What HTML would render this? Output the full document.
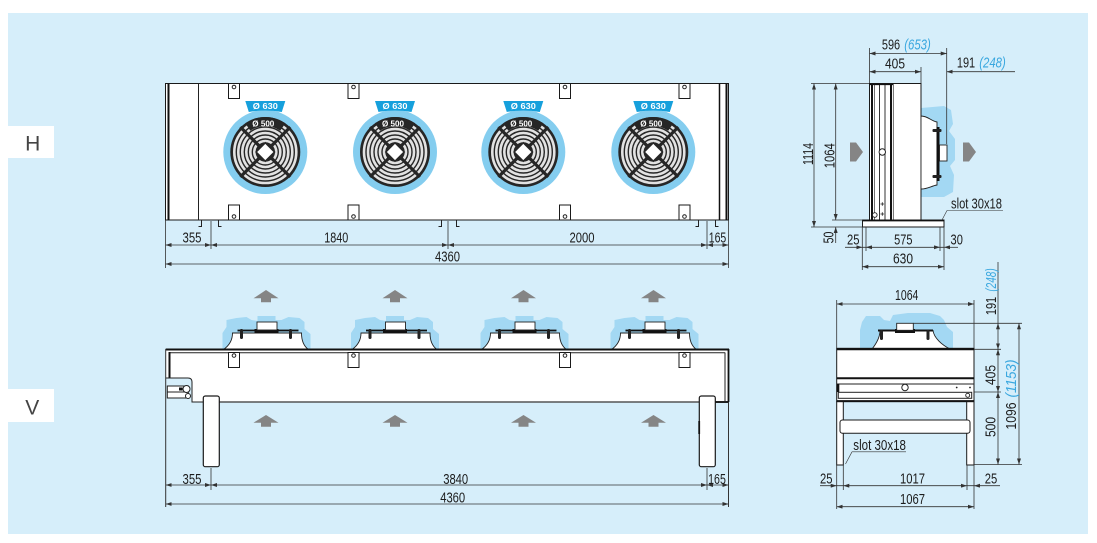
<!DOCTYPE html>
<html><head><meta charset="utf-8"><style>
html,body{margin:0;padding:0;background:#fff;}
svg{display:block;}
text{font-family:"Liberation Sans",sans-serif;font-size:14.5px;fill:#1c1c1c;}
.m{text-anchor:middle;}
.b{fill:#39a7df;font-style:italic;}
.tg{font-size:8.5px;font-weight:bold;fill:#fff;text-anchor:middle;}
.ln{stroke:#333;stroke-width:0.8;fill:none;}
.dm{stroke:#333;stroke-width:0.8;fill:none;marker-start:url(#ar);marker-end:url(#ar);}
.de{stroke:#333;stroke-width:0.8;fill:none;marker-end:url(#ar);}
.ds{stroke:#333;stroke-width:0.8;fill:none;marker-start:url(#ar);}
.ob{fill:#fff;stroke:#1a1a1a;stroke-width:1;}
.cl{fill:#a3d8f3;}
.ga{fill:#858585;}
</style></head><body>
<svg width="1097" height="543" viewBox="0 0 1097 543" xmlns="http://www.w3.org/2000/svg">
<defs>
<marker id="ar" viewBox="0 0 6 4" refX="6" refY="2" markerWidth="6" markerHeight="4" markerUnits="userSpaceOnUse" orient="auto-start-reverse"><path d="M0,0 L6,2 L0,4 z" fill="#333"/></marker>
</defs>
<rect x="8" y="13" width="1080" height="521" fill="#d6eefa"/>

<!-- labels -->
<rect x="8" y="126" width="46" height="32" fill="#fff"/>
<text x="32.7" y="150.5" class="m" style="font-size:21px;fill:#444">H</text>
<rect x="8" y="389" width="46" height="33" fill="#fff"/>
<text x="32.3" y="414.5" class="m" style="font-size:21px;fill:#444">V</text>

<!-- ================= H MAIN VIEW ================= -->
<rect x="165.5" y="83.5" width="563" height="136.5" class="ob"/>
<line x1="168.5" y1="84" x2="168.5" y2="220" stroke="#111" stroke-width="2"/>
<line x1="198.5" y1="83.5" x2="198.5" y2="220" stroke="#222" stroke-width="1"/>
<line x1="719.5" y1="83.5" x2="719.5" y2="220" stroke="#111" stroke-width="1.5"/>
<line x1="726.5" y1="83.5" x2="726.5" y2="220" stroke="#111" stroke-width="2"/>

<g>
<rect x="228.5" y="83.5" width="11" height="15" class="ob"/><circle cx="234" cy="87" r="1.8" fill="none" stroke="#222"/>
<rect x="348" y="83.5" width="11" height="15" class="ob"/><circle cx="353.5" cy="87" r="1.8" fill="none" stroke="#222"/>
<rect x="559.5" y="83.5" width="11" height="15" class="ob"/><circle cx="565" cy="87" r="1.8" fill="none" stroke="#222"/>
<rect x="679" y="83.5" width="11" height="15" class="ob"/><circle cx="684.5" cy="87" r="1.8" fill="none" stroke="#222"/>
<rect x="228.5" y="205" width="11" height="15" class="ob"/><circle cx="234" cy="216.5" r="1.8" fill="none" stroke="#222"/>
<rect x="348" y="205" width="11" height="15" class="ob"/><circle cx="353.5" cy="216.5" r="1.8" fill="none" stroke="#222"/>
<rect x="559.5" y="205" width="11" height="15" class="ob"/><circle cx="565" cy="216.5" r="1.8" fill="none" stroke="#222"/>
<rect x="679" y="205" width="11" height="15" class="ob"/><circle cx="684.5" cy="216.5" r="1.8" fill="none" stroke="#222"/>
</g>

<!-- fans -->
<g transform="translate(265.3,152)">
<circle r="42" fill="#84cdef"/>
<path d="M-20,-51 L20,-51 L16.5,-40 Q0,-43 -16.5,-40 Z" fill="#16a0dc"/>
<circle r="35" fill="#262626"/>
<g fill="none" stroke="#e2e2e2" stroke-width="2.6"><circle r="31"/><circle r="27"/><circle r="23"/><circle r="19"/><circle r="15"/><circle r="11"/></g>
<path d="M-25,-25 L25,25 M25,-25 L-25,25" stroke="#262626" stroke-width="3.2"/>
<path d="M-20.1,-28.7 A35,35 0 0 1 20.1,-28.7 L14.9,-21.3 A26,26 0 0 0 -14.9,-21.3 Z" fill="#262626"/>
<rect x="-6.5" y="-6.5" width="13" height="13" transform="rotate(45)" fill="#fff" stroke="#262626" stroke-width="1.5"/>
<text x="0" y="-43" class="tg" textLength="25" lengthAdjust="spacingAndGlyphs">Ø 630</text>
<text x="-2" y="-25.5" class="tg" textLength="22" lengthAdjust="spacingAndGlyphs">Ø 500</text>
</g>
<g transform="translate(395,152)">
<circle r="42" fill="#84cdef"/>
<path d="M-20,-51 L20,-51 L16.5,-40 Q0,-43 -16.5,-40 Z" fill="#16a0dc"/>
<circle r="35" fill="#262626"/>
<g fill="none" stroke="#e2e2e2" stroke-width="2.6"><circle r="31"/><circle r="27"/><circle r="23"/><circle r="19"/><circle r="15"/><circle r="11"/></g>
<path d="M-25,-25 L25,25 M25,-25 L-25,25" stroke="#262626" stroke-width="3.2"/>
<path d="M-20.1,-28.7 A35,35 0 0 1 20.1,-28.7 L14.9,-21.3 A26,26 0 0 0 -14.9,-21.3 Z" fill="#262626"/>
<rect x="-6.5" y="-6.5" width="13" height="13" transform="rotate(45)" fill="#fff" stroke="#262626" stroke-width="1.5"/>
<text x="0" y="-43" class="tg" textLength="25" lengthAdjust="spacingAndGlyphs">Ø 630</text>
<text x="-2" y="-25.5" class="tg" textLength="22" lengthAdjust="spacingAndGlyphs">Ø 500</text>
</g>
<g transform="translate(523.3,152)">
<circle r="42" fill="#84cdef"/>
<path d="M-20,-51 L20,-51 L16.5,-40 Q0,-43 -16.5,-40 Z" fill="#16a0dc"/>
<circle r="35" fill="#262626"/>
<g fill="none" stroke="#e2e2e2" stroke-width="2.6"><circle r="31"/><circle r="27"/><circle r="23"/><circle r="19"/><circle r="15"/><circle r="11"/></g>
<path d="M-25,-25 L25,25 M25,-25 L-25,25" stroke="#262626" stroke-width="3.2"/>
<path d="M-20.1,-28.7 A35,35 0 0 1 20.1,-28.7 L14.9,-21.3 A26,26 0 0 0 -14.9,-21.3 Z" fill="#262626"/>
<rect x="-6.5" y="-6.5" width="13" height="13" transform="rotate(45)" fill="#fff" stroke="#262626" stroke-width="1.5"/>
<text x="0" y="-43" class="tg" textLength="25" lengthAdjust="spacingAndGlyphs">Ø 630</text>
<text x="-2" y="-25.5" class="tg" textLength="22" lengthAdjust="spacingAndGlyphs">Ø 500</text>
</g>
<g transform="translate(653.3,152)">
<circle r="42" fill="#84cdef"/>
<path d="M-20,-51 L20,-51 L16.5,-40 Q0,-43 -16.5,-40 Z" fill="#16a0dc"/>
<circle r="35" fill="#262626"/>
<g fill="none" stroke="#e2e2e2" stroke-width="2.6"><circle r="31"/><circle r="27"/><circle r="23"/><circle r="19"/><circle r="15"/><circle r="11"/></g>
<path d="M-25,-25 L25,25 M25,-25 L-25,25" stroke="#262626" stroke-width="3.2"/>
<path d="M-20.1,-28.7 A35,35 0 0 1 20.1,-28.7 L14.9,-21.3 A26,26 0 0 0 -14.9,-21.3 Z" fill="#262626"/>
<rect x="-6.5" y="-6.5" width="13" height="13" transform="rotate(45)" fill="#fff" stroke="#262626" stroke-width="1.5"/>
<text x="0" y="-43" class="tg" textLength="25" lengthAdjust="spacingAndGlyphs">Ø 630</text>
<text x="-2" y="-25.5" class="tg" textLength="22" lengthAdjust="spacingAndGlyphs">Ø 500</text>
</g>

<path d="M201.5,220 V226.5 H198.5 M218.5,220 V226.5 H221.5 M441.5,220 V226.5 H438.5 M456.5,220 V226.5 H459.5 M698.5,220 V226.5 H695.5 M715.5,220 V226.5 H718.5" stroke="#222" stroke-width="1" fill="none"/>
<path d="M165.5,220 V268 M728.5,220 V268 M211,221 V249 M448,221 V249 M707,221 V249" class="ln"/>
<line x1="165.5" y1="245" x2="211" y2="245" class="dm"/>
<line x1="211" y1="245" x2="448" y2="245" class="dm"/>
<line x1="448" y1="245" x2="707" y2="245" class="dm"/>
<line x1="707" y1="245" x2="728.5" y2="245" class="dm"/>
<line x1="165.5" y1="264" x2="728.5" y2="264" class="dm"/>
<text x="192" y="242.7" class="m" textLength="19" lengthAdjust="spacingAndGlyphs">355</text>
<text x="336.3" y="242.7" class="m" textLength="24" lengthAdjust="spacingAndGlyphs">1840</text>
<text x="582" y="242.7" class="m" textLength="25" lengthAdjust="spacingAndGlyphs">2000</text>
<text x="717.5" y="242.7" class="m" textLength="17.5" lengthAdjust="spacingAndGlyphs">165</text>
<text x="447.5" y="261.7" class="m" textLength="25" lengthAdjust="spacingAndGlyphs">4360</text>

<!-- ================= H SIDE VIEW ================= -->
<path class="cl" d="M921,108 L944,106 L951,110 L953,124 L949,131 L955,139 L955,160 L950,166 L954,175 L953,192 L944,197 L921,197 Z"/>
<rect x="869.5" y="83.5" width="51.5" height="136.5" class="ob"/>
<line x1="872" y1="84" x2="872" y2="220" stroke="#111" stroke-width="2"/>
<line x1="874.5" y1="84" x2="874.5" y2="220" stroke="#333" stroke-width="0.7"/>
<line x1="879.5" y1="84" x2="879.5" y2="220" stroke="#333" stroke-width="1"/>
<line x1="885" y1="84" x2="885" y2="220" stroke="#333" stroke-width="1"/>
<line x1="891" y1="84" x2="891" y2="220" stroke="#111" stroke-width="2"/>
<line x1="893.3" y1="84" x2="893.3" y2="220" stroke="#333" stroke-width="0.7"/>
<line x1="869.5" y1="84.3" x2="893" y2="84.3" stroke="#111" stroke-width="1.6"/>
<circle cx="882.3" cy="152" r="3.2" fill="#fff" stroke="#222" stroke-width="1"/>
<path d="M880.5,204 h3.6 M882.3,202.2 v3.6 M880.5,214 h3.6 M882.3,212.2 v3.6" stroke="#222" stroke-width="0.8"/>
<circle cx="874.8" cy="215" r="2.3" fill="#fff" stroke="#222" stroke-width="0.9"/>
<path d="M921,116 C928,116 931,121 937,122 L937,185 C931,186 928,189 921,189 Z" fill="#fff" stroke="#222" stroke-width="0.9"/>
<rect x="936.5" y="127" width="3" height="54" fill="#111"/>
<rect x="932.5" y="129" width="9" height="3" rx="1" fill="#222"/>
<rect x="932.5" y="175" width="9" height="3" rx="1" fill="#222"/>
<rect x="939.5" y="145" width="7.5" height="16" fill="#fff" stroke="#222" stroke-width="0.9"/>
<rect x="862.5" y="220" width="81.5" height="7" class="ob"/>
<line x1="862.5" y1="220.6" x2="944" y2="220.6" stroke="#111" stroke-width="1.6"/>
<polygon class="ga" points="850,142.5 856,142.5 863,152 856,161.5 850,161.5"/>
<polygon class="ga" points="963,142.5 969,142.5 976,152 969,161.5 963,161.5"/>

<path d="M869.5,48 V83 M946.7,48 V144 M921,67 V83" class="ln"/>
<line x1="869.5" y1="53.5" x2="946.7" y2="53.5" class="dm"/>
<line x1="869.5" y1="71.7" x2="921" y2="71.7" class="dm"/>
<line x1="946.7" y1="71.7" x2="1015" y2="71.7" class="ds"/>
<text x="891" y="49.3" class="m" textLength="18.3" lengthAdjust="spacingAndGlyphs">596</text>
<text x="917.5" y="49.3" class="m b" textLength="26.5" lengthAdjust="spacingAndGlyphs">(653)</text>
<text x="895" y="68.3" class="m" textLength="20" lengthAdjust="spacingAndGlyphs">405</text>
<text x="966" y="67.3" class="m" textLength="18.3" lengthAdjust="spacingAndGlyphs">191</text>
<text x="992.5" y="67.3" class="m b" textLength="26.5" lengthAdjust="spacingAndGlyphs">(248)</text>

<path d="M811,83.5 H869 M832,220 H862.5 M811,227 H862.5" class="ln"/>
<line x1="814" y1="83.5" x2="814" y2="227" class="dm"/>
<line x1="835.7" y1="83.5" x2="835.7" y2="220" class="dm"/>
<line x1="835.7" y1="227" x2="835.7" y2="243" class="ds"/>
<text transform="translate(813,154) rotate(-90)" class="m" textLength="22" lengthAdjust="spacingAndGlyphs">1114</text>
<text transform="translate(834.3,155.8) rotate(-90)" class="m" textLength="25" lengthAdjust="spacingAndGlyphs">1064</text>
<text transform="translate(833.3,237.5) rotate(-90)" class="m" textLength="11.7" lengthAdjust="spacingAndGlyphs">50</text>

<path d="M862.3,227 V270 M866,227 V251 M940,227 V251 M944,227 V270 M862.3,247.3 H866 M940,247.3 H944" class="ln"/>
<line x1="845" y1="247.3" x2="862.3" y2="247.3" class="de"/>
<line x1="866" y1="247.3" x2="940" y2="247.3" class="dm"/>
<line x1="944" y1="247.3" x2="958" y2="247.3" class="ds"/>
<line x1="862.3" y1="266.7" x2="944" y2="266.7" class="dm"/>
<text x="853.3" y="244.3" class="m" textLength="12.5" lengthAdjust="spacingAndGlyphs">25</text>
<text x="903.3" y="244.3" class="m" textLength="18.3" lengthAdjust="spacingAndGlyphs">575</text>
<text x="956.7" y="244.3" class="m" textLength="12.3" lengthAdjust="spacingAndGlyphs">30</text>
<text x="903" y="263.3" class="m" textLength="20" lengthAdjust="spacingAndGlyphs">630</text>
<text x="951" y="208.3" textLength="51" lengthAdjust="spacingAndGlyphs">slot 30x18</text>
<path d="M947,210.5 H1003 M947,210.5 L942,220" stroke="#333" stroke-width="0.6" fill="none"/>

<!-- ================= V MAIN VIEW ================= -->
<g class="ga">
<polygon points="253.5,298.3 266,290 278.5,298.3 271,298.3 271,302.3 261,302.3 261,298.3"/>
<polygon points="382.5,298.3 395,290 407.5,298.3 400,298.3 400,302.3 390,302.3 390,298.3"/>
<polygon points="511,298.3 523.5,290 536,298.3 528.5,298.3 528.5,302.3 518.5,302.3 518.5,298.3"/>
<polygon points="641,298.3 653.5,290 666,298.3 658.5,298.3 658.5,302.3 648.5,302.3 648.5,298.3"/>
<polygon points="253.5,422.7 266,415 278.5,422.7 271,422.7 271,426.7 261,426.7 261,422.7"/>
<polygon points="382.5,422.7 395,415 407.5,422.7 400,422.7 400,426.7 390,426.7 390,422.7"/>
<polygon points="511,422.7 523.5,415 536,422.7 528.5,422.7 528.5,426.7 518.5,426.7 518.5,422.7"/>
<polygon points="641,422.7 653.5,415 666,422.7 658.5,422.7 658.5,426.7 648.5,426.7 648.5,422.7"/>
</g>
<g transform="translate(266.5,0)">
<path class="cl" d="M-44,349 L-44,333 L-40,327 L-40,320 L-30,318 L-20,317 L-15,320 L-9,321 L-9,316 L9,316 L9,320 L15,320 L22,317 L33,318 L38,322 L38,329 L44,334 L44,349 Z"/>
<path d="M-34,333 L35,333 C35,341 37,346 42,349.5 L-43,349.5 C-38,346 -34,341 -34,333 Z" fill="#fff" stroke="#222" stroke-width="0.9"/>
<rect x="-29" y="329.6" width="61" height="1.8" fill="#111"/>
<rect x="-26.5" y="329" width="3" height="10" rx="1.2" fill="#222"/>
<rect x="22.5" y="329" width="3" height="10" rx="1.2" fill="#222"/>
<rect x="-12" y="329" width="24" height="4" fill="#111"/>
<rect x="-9.5" y="322" width="20" height="8" fill="#fff" stroke="#222" stroke-width="0.9"/>
</g>
<g transform="translate(395,0)">
<path class="cl" d="M-44,349 L-44,333 L-40,327 L-40,320 L-30,318 L-20,317 L-15,320 L-9,321 L-9,316 L9,316 L9,320 L15,320 L22,317 L33,318 L38,322 L38,329 L44,334 L44,349 Z"/>
<path d="M-34,333 L35,333 C35,341 37,346 42,349.5 L-43,349.5 C-38,346 -34,341 -34,333 Z" fill="#fff" stroke="#222" stroke-width="0.9"/>
<rect x="-29" y="329.6" width="61" height="1.8" fill="#111"/>
<rect x="-26.5" y="329" width="3" height="10" rx="1.2" fill="#222"/>
<rect x="22.5" y="329" width="3" height="10" rx="1.2" fill="#222"/>
<rect x="-12" y="329" width="24" height="4" fill="#111"/>
<rect x="-9.5" y="322" width="20" height="8" fill="#fff" stroke="#222" stroke-width="0.9"/>
</g>
<g transform="translate(524.5,0)">
<path class="cl" d="M-44,349 L-44,333 L-40,327 L-40,320 L-30,318 L-20,317 L-15,320 L-9,321 L-9,316 L9,316 L9,320 L15,320 L22,317 L33,318 L38,322 L38,329 L44,334 L44,349 Z"/>
<path d="M-34,333 L35,333 C35,341 37,346 42,349.5 L-43,349.5 C-38,346 -34,341 -34,333 Z" fill="#fff" stroke="#222" stroke-width="0.9"/>
<rect x="-29" y="329.6" width="61" height="1.8" fill="#111"/>
<rect x="-26.5" y="329" width="3" height="10" rx="1.2" fill="#222"/>
<rect x="22.5" y="329" width="3" height="10" rx="1.2" fill="#222"/>
<rect x="-12" y="329" width="24" height="4" fill="#111"/>
<rect x="-9.5" y="322" width="20" height="8" fill="#fff" stroke="#222" stroke-width="0.9"/>
</g>
<g transform="translate(654.5,0)">
<path class="cl" d="M-44,349 L-44,333 L-40,327 L-40,320 L-30,318 L-20,317 L-15,320 L-9,321 L-9,316 L9,316 L9,320 L15,320 L22,317 L33,318 L38,322 L38,329 L44,334 L44,349 Z"/>
<path d="M-34,333 L35,333 C35,341 37,346 42,349.5 L-43,349.5 C-38,346 -34,341 -34,333 Z" fill="#fff" stroke="#222" stroke-width="0.9"/>
<rect x="-29" y="329.6" width="61" height="1.8" fill="#111"/>
<rect x="-26.5" y="329" width="3" height="10" rx="1.2" fill="#222"/>
<rect x="22.5" y="329" width="3" height="10" rx="1.2" fill="#222"/>
<rect x="-12" y="329" width="24" height="4" fill="#111"/>
<rect x="-9.5" y="322" width="20" height="8" fill="#fff" stroke="#222" stroke-width="0.9"/>
</g>

<path d="M165.7,349 H729 V402 H192 V382 Q192,378 188,378 H165.7 Z" fill="#fff"/>
<line x1="165.7" y1="349.5" x2="729" y2="349.5" stroke="#111" stroke-width="2"/>
<line x1="169" y1="352.8" x2="725" y2="352.8" stroke="#222" stroke-width="1"/>
<line x1="169.5" y1="352" x2="169.5" y2="378" stroke="#111" stroke-width="2"/>
<path d="M165.7,378 H188 Q192,378 192,382 V402 H203" stroke="#222" stroke-width="1" fill="none"/>
<line x1="219" y1="402" x2="729" y2="402" stroke="#555" stroke-width="1.5"/>
<line x1="715" y1="402" x2="729" y2="402" stroke="#111" stroke-width="1.8"/>
<line x1="725" y1="352.5" x2="725" y2="402" stroke="#222" stroke-width="1"/>
<line x1="728.5" y1="349" x2="728.5" y2="402" stroke="#111" stroke-width="1.8"/>
<path d="M165.7,349 V507 M728.5,402 V507" class="ln" style="stroke-width:1"/>
<rect x="167.3" y="386" width="21" height="12" fill="#fff" stroke="#222" stroke-width="1"/>
<line x1="167.3" y1="392" x2="188" y2="392" stroke="#222" stroke-width="1"/>
<rect x="179" y="387.5" width="3.5" height="3" fill="#111"/>
<circle cx="186.5" cy="389" r="3.5" fill="#fff" stroke="#222" stroke-width="1"/>
<circle cx="188" cy="396" r="2.5" fill="#fff" stroke="#222" stroke-width="1"/>
<rect x="228.5" y="352.5" width="11" height="15" class="ob"/><circle cx="234" cy="355.5" r="1.8" fill="none" stroke="#222"/>
<rect x="348" y="352.5" width="11" height="15" class="ob"/><circle cx="353.5" cy="355.5" r="1.8" fill="none" stroke="#222"/>
<rect x="559.5" y="352.5" width="11" height="15" class="ob"/><circle cx="565" cy="355.5" r="1.8" fill="none" stroke="#222"/>
<rect x="679" y="352.5" width="11" height="15" class="ob"/><circle cx="684.5" cy="355.5" r="1.8" fill="none" stroke="#222"/>
<rect x="203.3" y="396" width="16" height="70.7" rx="2" fill="#fff" stroke="#1a1a1a" stroke-width="1.2"/>
<rect x="699.3" y="396" width="16" height="70.7" rx="2" fill="#fff" stroke="#1a1a1a" stroke-width="1.2"/>
<rect x="698.3" y="421" width="1.8" height="13" fill="#111"/>
<path d="M211,468 V490 M707,468 V490" class="ln"/>
<line x1="165.7" y1="485" x2="211" y2="485" class="dm"/>
<line x1="211" y1="485" x2="707" y2="485" class="dm"/>
<line x1="707" y1="485" x2="728.5" y2="485" class="dm"/>
<line x1="165.7" y1="504" x2="728.5" y2="504" class="dm"/>
<text x="192" y="484" class="m" textLength="19" lengthAdjust="spacingAndGlyphs">355</text>
<text x="455.7" y="484" class="m" textLength="25" lengthAdjust="spacingAndGlyphs">3840</text>
<text x="717" y="484" class="m" textLength="17.7" lengthAdjust="spacingAndGlyphs">165</text>
<text x="452.7" y="502.7" class="m" textLength="25" lengthAdjust="spacingAndGlyphs">4360</text>

<!-- ================= V SIDE VIEW ================= -->
<path class="cl" d="M860,349 L860,330 L862,322 L866,316 L880,316 L884,320 L890,321 L893,315 L908,313 L930,313 L940,316 L944,320 L947,327 L953,332 L953,349 Z"/>
<path d="M880,330.5 L933,330.5 C934,338 942,345 950,349 L872,349 C876,344 880,338 880,330.5 Z" fill="#fff" stroke="#222" stroke-width="0.9"/>
<rect x="878" y="329.5" width="55" height="2" fill="#111"/>
<rect x="880" y="330" width="3" height="10" rx="1.2" fill="#222"/>
<rect x="926.5" y="330" width="3" height="10" rx="1.2" fill="#222"/>
<rect x="895" y="329" width="20" height="4" fill="#111"/>
<rect x="896.7" y="323.3" width="16.6" height="7" fill="#fff" stroke="#222" stroke-width="0.9"/>

<rect x="836.7" y="348.3" width="137.3" height="53.4" class="ob"/>
<line x1="836.7" y1="349.2" x2="974" y2="349.2" stroke="#111" stroke-width="2"/>
<line x1="836.7" y1="378.3" x2="974" y2="378.3" stroke="#111" stroke-width="2"/>
<line x1="836.7" y1="384" x2="974" y2="384" stroke="#222" stroke-width="1"/>
<rect x="838.3" y="392.3" width="133.4" height="6" fill="#fff" stroke="#222" stroke-width="1"/>
<line x1="836.7" y1="401" x2="974" y2="401" stroke="#111" stroke-width="1.8"/>
<circle cx="905" cy="387.5" r="3.2" fill="#fff" stroke="#222" stroke-width="1"/>
<circle cx="956.7" cy="387.5" r="0.9" fill="#222"/>
<circle cx="970" cy="387.5" r="0.9" fill="#222"/>
<circle cx="967.7" cy="395.3" r="2" fill="#fff" stroke="#222" stroke-width="0.9"/>
<rect x="836.7" y="384" width="2.6" height="8" fill="#111"/>
<rect x="836.7" y="401.7" width="6.6" height="63.3" class="ob"/>
<rect x="966.7" y="401.7" width="7.3" height="63.3" class="ob"/>
<rect x="840" y="420" width="130" height="13.3" rx="2.5" class="ob"/>

<path d="M836.7,300 V348 M974,300 V348" class="ln"/>
<line x1="836.7" y1="304" x2="974" y2="304" class="dm"/>
<text x="906.7" y="300" class="m" textLength="23.3" lengthAdjust="spacingAndGlyphs">1064</text>

<path d="M913.3,323.3 H1022 M974,349.3 H1001 M974,392 H1001 M974,464.5 H1022 M998,262 V323.3" class="ln"/>
<line x1="998" y1="323.3" x2="998" y2="349.3" class="dm"/>
<line x1="998" y1="349.3" x2="998" y2="392" class="dm"/>
<line x1="998" y1="392" x2="998" y2="464.5" class="dm"/>
<line x1="1019" y1="323.3" x2="1019" y2="464.5" class="dm"/>
<text transform="translate(996,280) rotate(-90)" class="m b" textLength="23.3" lengthAdjust="spacingAndGlyphs">(248)</text>
<text transform="translate(996,306) rotate(-90)" class="m" textLength="18.3" lengthAdjust="spacingAndGlyphs">191</text>
<text transform="translate(995.5,375) rotate(-90)" class="m" textLength="20" lengthAdjust="spacingAndGlyphs">405</text>
<text transform="translate(995.5,427) rotate(-90)" class="m" textLength="20" lengthAdjust="spacingAndGlyphs">500</text>
<text transform="translate(1016,378.5) rotate(-90)" class="m b" textLength="38" lengthAdjust="spacingAndGlyphs">(1153)</text>
<text transform="translate(1016,416) rotate(-90)" class="m" textLength="27" lengthAdjust="spacingAndGlyphs">1096</text>

<path d="M836.7,465 V509 M843.3,465 V490 M967,465 V490 M974,465 V509 M836.7,485.7 H843.3 M967,485.7 H974" class="ln"/>
<line x1="820" y1="485.7" x2="836.7" y2="485.7" class="de"/>
<line x1="843.3" y1="485.7" x2="967" y2="485.7" class="dm"/>
<line x1="974" y1="485.7" x2="1000" y2="485.7" class="ds"/>
<line x1="836.7" y1="506.7" x2="974" y2="506.7" class="dm"/>
<text x="826.3" y="483.3" class="m" textLength="12.5" lengthAdjust="spacingAndGlyphs">25</text>
<text x="912.5" y="483.3" class="m" textLength="25" lengthAdjust="spacingAndGlyphs">1017</text>
<text x="991" y="483.3" class="m" textLength="12.5" lengthAdjust="spacingAndGlyphs">25</text>
<text x="912.5" y="504" class="m" textLength="25" lengthAdjust="spacingAndGlyphs">1067</text>
<text x="853.3" y="450" textLength="52.7" lengthAdjust="spacingAndGlyphs">slot 30x18</text>
<path d="M852,451.8 H906 M852,451.8 L845.5,464" stroke="#333" stroke-width="0.6" fill="none"/>
</svg>
</body></html>
